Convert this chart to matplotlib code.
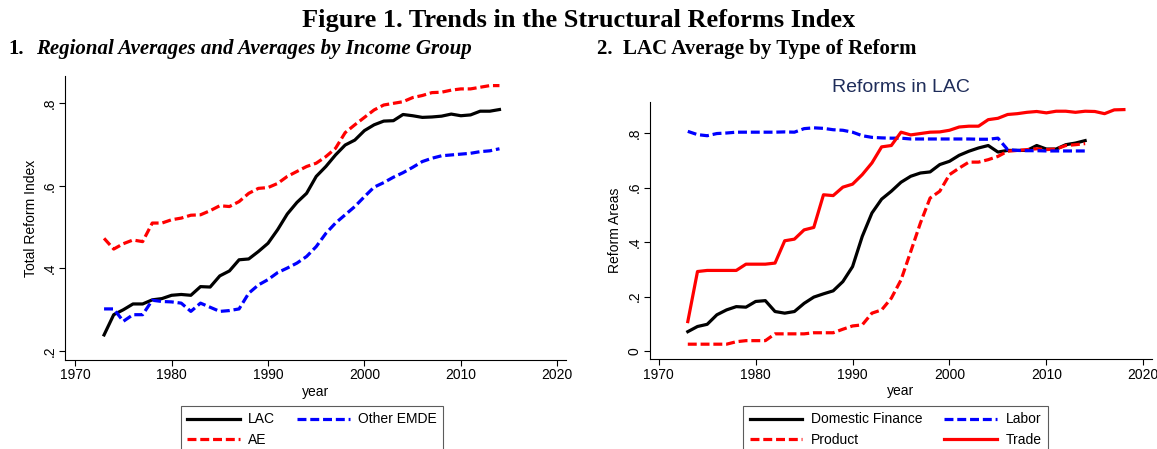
import matplotlib
matplotlib.use("Agg")
import matplotlib.pyplot as plt

years_l = list(range(1973, 2015))
lac = [0.239, 0.288, 0.300, 0.314, 0.314, 0.324, 0.327, 0.335, 0.337, 0.335,
       0.356, 0.355, 0.382, 0.394, 0.421, 0.423, 0.441, 0.461, 0.494, 0.532,
       0.560, 0.582, 0.623, 0.647, 0.675, 0.699, 0.711, 0.734, 0.748, 0.757,
       0.758, 0.773, 0.770, 0.766, 0.767, 0.769, 0.774, 0.770, 0.772, 0.781,
       0.781, 0.785]
ae = [0.473, 0.447, 0.460, 0.469, 0.465, 0.510, 0.510, 0.518, 0.522, 0.529,
      0.530, 0.540, 0.552, 0.550, 0.562, 0.582, 0.594, 0.596, 0.606, 0.623,
      0.635, 0.647, 0.655, 0.671, 0.691, 0.729, 0.748, 0.766, 0.784, 0.796,
      0.800, 0.804, 0.814, 0.819, 0.826, 0.827, 0.832, 0.835, 0.835, 0.839,
      0.843, 0.843]
emde = [0.302, 0.302, 0.272, 0.288, 0.288, 0.323, 0.320, 0.319, 0.316, 0.296,
        0.316, 0.306, 0.296, 0.298, 0.302, 0.340, 0.360, 0.373, 0.390, 0.401,
        0.413, 0.429, 0.453, 0.485, 0.510, 0.530, 0.550, 0.574, 0.597, 0.608,
        0.621, 0.632, 0.645, 0.659, 0.667, 0.673, 0.675, 0.677, 0.679, 0.683,
        0.685, 0.690]

years_r = list(range(1973, 2015))
years_trade = list(range(1973, 2019))
dom_fin = [0.071, 0.090, 0.098, 0.133, 0.151, 0.163, 0.161, 0.182, 0.185, 0.145,
           0.139, 0.145, 0.175, 0.198, 0.210, 0.221, 0.255, 0.310, 0.421, 0.507,
           0.558, 0.587, 0.620, 0.642, 0.654, 0.658, 0.685, 0.697, 0.719, 0.734,
           0.746, 0.755, 0.731, 0.737, 0.737, 0.737, 0.755, 0.742, 0.742, 0.758,
           0.764, 0.773]
product = [0.025, 0.025, 0.025, 0.025, 0.025, 0.034, 0.038, 0.038, 0.038, 0.063,
           0.063, 0.063, 0.063, 0.067, 0.067, 0.067, 0.080, 0.092, 0.096, 0.139,
           0.151, 0.194, 0.261, 0.365, 0.470, 0.562, 0.587, 0.648, 0.672, 0.694,
           0.694, 0.703, 0.715, 0.734, 0.737, 0.740, 0.743, 0.740, 0.742, 0.755,
           0.758, 0.762]
labor = [0.807, 0.795, 0.791, 0.799, 0.801, 0.804, 0.804, 0.804, 0.804, 0.804,
         0.805, 0.804, 0.817, 0.820, 0.818, 0.813, 0.811, 0.804, 0.791, 0.785,
         0.783, 0.782, 0.782, 0.779, 0.779, 0.779, 0.779, 0.779, 0.779, 0.779,
         0.778, 0.778, 0.782, 0.740, 0.737, 0.736, 0.736, 0.735, 0.735, 0.735,
         0.735, 0.735]
trade = [0.108, 0.292, 0.296, 0.296, 0.296, 0.296, 0.319, 0.319, 0.319, 0.323,
         0.405, 0.411, 0.445, 0.454, 0.574, 0.571, 0.602, 0.613, 0.648, 0.691,
         0.750, 0.755, 0.804, 0.794, 0.799, 0.804, 0.805, 0.811, 0.823, 0.826,
         0.826, 0.850, 0.855, 0.869, 0.872, 0.877, 0.880, 0.875, 0.881, 0.881,
         0.877, 0.881, 0.880, 0.872, 0.886, 0.887]

x_ticks = [1970, 1980, 1990, 2000, 2010, 2020]
y_ticks_l = [0.2, 0.4, 0.6, 0.8]
y_labels_l = [".2", ".4", ".6", ".8"]
y_ticks_r = [0, 0.2, 0.4, 0.6, 0.8]
y_labels_r = ["0", ".2", ".4", ".6", ".8"]

plt.rcParams["font.family"] = ["Liberation Sans", "DejaVu Sans"]
DASH = (0, (2.8, 1.2))
LW = 2.3

fig = plt.figure(figsize=(11.57, 4.49), dpi=100)


def style_axes(ax, yt, yl, ylabel):
    for s in ["top", "right"]:
        ax.spines[s].set_visible(False)
    ax.set_xticks(x_ticks)
    ax.set_yticks(yt)
    ax.set_yticklabels(yl, rotation=90, va="center")
    ax.tick_params(labelsize=10, direction="out", length=4.5, pad=1.5)
    ax.set_xlabel("year", fontsize=10, labelpad=2)
    ax.set_ylabel(ylabel, fontsize=10, labelpad=4)


ax1 = fig.add_axes([0.0566, 0.198, 0.4326, 0.6325])
ax1.plot(years_l, lac, color="black", lw=LW, label="LAC")
ax1.plot(years_l, ae, color="red", lw=LW, ls=DASH, label="AE")
ax1.plot(years_l, emde, color="blue", lw=LW, ls=DASH, label="Other EMDE")
ax1.set_xlim(1969.0, 2020.9)
ax1.set_ylim(0.178, 0.866)
style_axes(ax1, y_ticks_l, y_labels_l, "Total Reform Index")

ax2 = fig.add_axes([0.5618, 0.1998, 0.4339, 0.5737])
ax2.plot(years_r, dom_fin, color="black", lw=LW, label="Domestic Finance")
ax2.plot(years_r, product, color="red", lw=LW, ls=DASH, label="Product")
ax2.plot(years_r, labor, color="blue", lw=LW, ls=DASH, label="Labor")
ax2.plot(years_trade, trade, color="red", lw=LW, label="Trade")
ax2.set_xlim(1969.1, 2020.9)
ax2.set_ylim(-0.0305, 0.916)
style_axes(ax2, y_ticks_r, y_labels_r, "Reform Areas")
ax2.set_title("Reforms in LAC", fontsize=14, color="#1f2d5a", pad=7)

leg_kw = dict(ncol=2, frameon=True, fancybox=False, edgecolor="#333333",
              fontsize=10, handlelength=3.8, handletextpad=0.6,
              columnspacing=1.6, borderpad=0.45, borderaxespad=0,
              labelspacing=0.5, loc="upper center")
h, l = ax1.get_legend_handles_labels()
leg1 = fig.legend(h, l, bbox_to_anchor=(0.2697, 0.0955), **leg_kw)
leg1.get_frame().set_linewidth(0.8)
h, l = ax2.get_legend_handles_labels()
leg2 = fig.legend(h, l, bbox_to_anchor=(0.774, 0.0955), **leg_kw)
leg2.get_frame().set_linewidth(0.8)

fig.text(0.5, 0.955, "Figure 1. Trends in the Structural Reforms Index",
         ha="center", va="center", fontsize=19, fontweight="bold",
         family="Liberation Serif")
fig.text(0.007, 0.89, "1.", ha="left", va="center", fontsize=15,
         fontweight="bold", family="Liberation Serif")
fig.text(0.031, 0.89, "Regional Averages and Averages by Income Group",
         ha="left", va="center", fontsize=15, fontweight="bold",
         style="italic", family="Liberation Serif")
fig.text(0.516, 0.89, "2.  LAC Average by Type of Reform", ha="left",
         va="center", fontsize=15, fontweight="bold",
         family="Liberation Serif")

fig.savefig("out.png", dpi=100)
